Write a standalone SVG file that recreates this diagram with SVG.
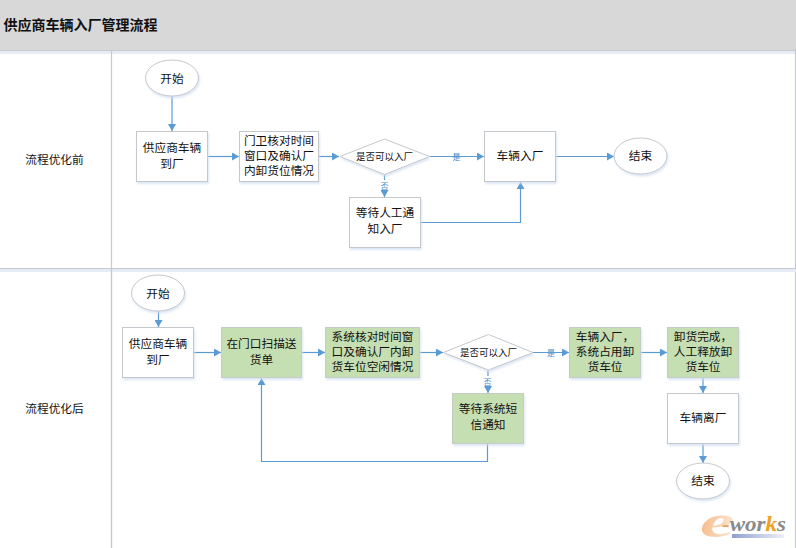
<svg xmlns="http://www.w3.org/2000/svg" width="796" height="548" viewBox="0 0 796 548">
<style>
text{font-family:"Liberation Sans","Noto Sans CJK SC",sans-serif;fill:#111;text-anchor:middle}
.t{font-size:11.7px}
.d{font-size:9.5px}
.l{font-size:8px;fill:#4d8fcc}
.b{fill:#fff;stroke:#c4c8cc;stroke-width:1;filter:url(#s)}
.g{fill:#c6dfb2;stroke:#c4ccc8;stroke-width:1;filter:url(#s)}
.c{fill:none;stroke:#5b9bd5;stroke-width:1.2;marker-end:url(#a)}
.ln{stroke:#c6c9cf;stroke-width:1.2;fill:none}
.w{font-family:"Liberation Serif",serif;font-style:italic;font-weight:bold;text-anchor:start}
</style>
<defs>
<marker id="a" markerUnits="userSpaceOnUse" markerWidth="8" markerHeight="8" refX="7" refY="4" orient="auto"><path d="M0 0L7 4L0 8Z" fill="#5b9bd5"/></marker>
<filter id="s" x="-10%" y="-10%" width="120%" height="125%"><feDropShadow dx="1" dy="2" stdDeviation="1.2" flood-color="#cfdcf0" flood-opacity="0.7"/></filter>
<linearGradient id="u" x1="0" x2="1" y1="0" y2="0"><stop offset="0" stop-color="#8f9fd0"/><stop offset="1" stop-color="#eef0f8"/></linearGradient>
<linearGradient id="o" x1="0" x2="1" y1="0" y2="0.3"><stop offset="0" stop-color="#f3b57e"/><stop offset="1" stop-color="#fbe3cf"/></linearGradient>
</defs>
<rect width="796" height="548" fill="#fff"/>
<g id="frame">
<rect x="0" y="0" width="796" height="50" fill="#d8d8d8"/>
<rect x="0" y="50" width="796" height="4" fill="#e6ecf6"/>
<path class="ln" d="M0 50.500H796M0 268.500H796M111.500 51V548M795.500 51V548"/>
<rect x="0" y="269" width="796" height="3" fill="#e6ecf6"/>
<path class="ln" d="M111.500 268V548"/>
<text x="3.500" y="29.500" style="text-anchor:start;font-size:14px;font-weight:bold">供应商车辆入厂管理流程</text>
<text class="t" x="54.500" y="164">流程优化前</text>
<text class="t" x="54.500" y="413">流程优化后</text>
</g>
<g id="connectors">
<path class="c" d="M172 96V131"/>
<path class="c" d="M208 156.500H239"/>
<path class="c" d="M319 156.500H339"/>
<path class="c" d="M430 156.500H484"/>
<path class="c" d="M384.500 175V197"/>
<path class="c" d="M421 222.500H520.500V182"/>
<path class="c" d="M556 156.500H614"/>
<path class="c" d="M158.500 311V327"/>
<path class="c" d="M194 352.500H221"/>
<path class="c" d="M302 352.500H325"/>
<path class="c" d="M420 352.500H443"/>
<path class="c" d="M533 352.500H569"/>
<path class="c" d="M488 370.500V393"/>
<path class="c" d="M487.500 444V461.500H261.500V378"/>
<path class="c" d="M641 352.500H667"/>
<path class="c" d="M703 378V393"/>
<path class="c" d="M703 444V463"/>
<text class="l" x="456.500" y="159.500">是</text>
<rect x="379" y="180" width="11" height="10" fill="#fff"/>
<text class="l" x="384.500" y="188.500">否</text>
<text class="l" x="551" y="355.500">是</text>
<rect x="482" y="376" width="11" height="10" fill="#fff"/>
<text class="l" x="487.500" y="384.500">否</text>
</g>
<g id="n1"><ellipse class="b" cx="172" cy="78" rx="26.500" ry="18"/><text class="t" x="172" y="82.500">开始</text></g>
<g id="n2"><rect class="b" x="136.500" y="131.500" width="71" height="50"/><text class="t" x="172" y="152">供应商车辆<tspan x="172" dy="16">到厂</tspan></text></g>
<g id="n3"><rect class="b" x="239.500" y="131.500" width="79" height="50"/><text class="t" x="279" y="145">门卫核对时间<tspan x="279" dy="15">窗口及确认厂</tspan><tspan x="279" dy="15">内卸货位情况</tspan></text></g>
<g id="n4"><path class="b" d="M340 156.500L384.500 139L429.500 156.500L384.500 174.500Z"/><text class="d" x="384.500" y="160">是否可以入厂</text></g>
<g id="n5"><rect class="b" x="349.500" y="197.500" width="71" height="50"/><text class="t" x="385" y="217">等待人工通<tspan x="385" dy="16">知入厂</tspan></text></g>
<g id="n6"><rect class="b" x="484.500" y="131.500" width="71" height="50"/><text class="t" x="520" y="160">车辆入厂</text></g>
<g id="n7"><ellipse class="b" cx="640.500" cy="156" rx="26.500" ry="18"/><text class="t" x="640.500" y="160">结束</text></g>
<g id="n8"><ellipse class="b" cx="158" cy="293" rx="26.500" ry="18"/><text class="t" x="158" y="297.500">开始</text></g>
<g id="n9"><rect class="b" x="122.500" y="327.500" width="71" height="50"/><text class="t" x="158" y="348">供应商车辆<tspan x="158" dy="16">到厂</tspan></text></g>
<g id="n10"><rect class="g" x="221.500" y="327.500" width="80" height="50"/><text class="t" x="261.500" y="348">在门口扫描送<tspan x="261.500" dy="16">货单</tspan></text></g>
<g id="n11"><rect class="g" x="325.500" y="327.500" width="94" height="50"/><text class="t" x="372.500" y="341">系统核对时间窗<tspan x="372.500" dy="15">口及确认厂内卸</tspan><tspan x="372.500" dy="15">货车位空闲情况</tspan></text></g>
<g id="n12"><path class="b" d="M443.500 352.500L488.500 334.500L533 352.500L488.500 370Z"/><text class="d" x="488.500" y="356">是否可以入厂</text></g>
<g id="n13"><rect class="g" x="452.500" y="393.500" width="71" height="50"/><text class="t" x="488" y="413">等待系统短<tspan x="488" dy="16">信通知</tspan></text></g>
<g id="n14"><rect class="g" x="569.500" y="327.500" width="71" height="50"/><text class="t" x="605" y="341">车辆入厂，<tspan x="605" dy="15">系统占用卸</tspan><tspan x="605" dy="15">货车位</tspan></text></g>
<g id="n15"><rect class="g" x="667.500" y="327.500" width="71" height="50"/><text class="t" x="703" y="341">卸货完成，<tspan x="703" dy="15">人工释放卸</tspan><tspan x="703" dy="15">货车位</tspan></text></g>
<g id="n16"><rect class="b" x="667.500" y="393.500" width="71" height="50"/><text class="t" x="703" y="422">车辆离厂</text></g>
<g id="n17"><ellipse class="b" cx="703" cy="481" rx="26.500" ry="18"/><text class="t" x="703" y="485">结束</text></g>
<g id="logo">
<rect x="732" y="534" width="52" height="4" fill="url(#u)"/>
<text class="w" transform="translate(700 537) scale(1.7 1)" style="font-size:46px;fill:url(#o)">e</text>
<text class="w" x="722" y="531" textLength="64" lengthAdjust="spacingAndGlyphs" style="font-size:20px;fill:#8a8a8a"><tspan style="fill:#e8a060">-</tspan>wor<tspan style="fill:#f0a020">k</tspan>s</text>
</g>
</svg>
